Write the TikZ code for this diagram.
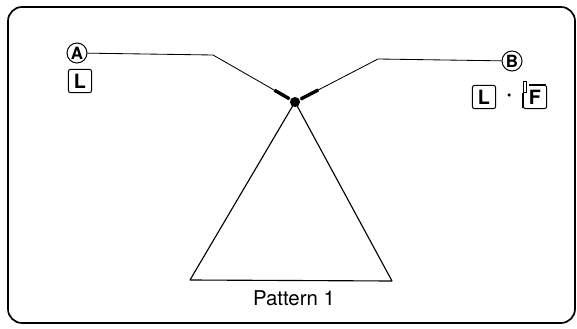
\documentclass[tikz,border=0pt]{standalone}
\usepackage{fontspec}
\setmainfont{TeX Gyre Heros}
\usetikzlibrary{calc}
\begin{document}
\begin{tikzpicture}[x=0.025cm, y=-0.025cm,
    circlabel/.style={circle, draw, line width=0.7pt, inner sep=0pt, minimum size=0.5cm, font=\fontsize{12}{12}\selectfont\bfseries},
    keybox/.style={draw, line width=0.7pt, rounded corners=1.5pt, inner sep=0pt, minimum size=0.58cm, font=\fontsize{14}{14}\selectfont\bfseries},
    thread/.style={line width=0.6pt},
    feed/.style={line width=2.4pt}]
    \useasboundingbox (0,0) rectangle (577,328);
    \draw[line width=1.2pt, rounded corners=10pt] (8,7) rectangle (575,323);
    % needle point
    \node[circle, fill, inner sep=0pt, minimum size=0.25cm] (needle) at (295,102) {};
    % thread A
    \node[circlabel] (a) at (77,53) {A};
    \node[keybox] (la) at (80,81) {L};
    \coordinate (abend) at (213,55);
    \draw[thread] (a) -- (abend) -- (needle);
    \draw[feed] ($(abend)!0.75!(needle.center)$) -- ($(abend)!0.93!(needle.center)$);
    % thread B
    \node[circlabel] (b) at (512,61) {B};
    \node[keybox] (lb) at (484,97) {L};
    \node[circle, fill, inner sep=0pt, minimum size=2.5pt] (dotsep) at (509,95) {};
    \node[keybox] (fb) at (535,97) {F};
    \fill[white] ($(fb.north west)+(-1,-1)$) rectangle ($(fb.north west)+(6,8)$);
    \draw[line width=0.6pt] ($(fb.north west)+(1,-3)$) rectangle ($(fb.north west)+(4,8)$);
    \draw[line width=0.7pt] ($(fb.north west)+(0,8)$) -- ($(fb.south west)+(0,-1)$);
    \draw[line width=0.7pt] ($(fb.north west)+(6,0)$) -- ($(fb.north east)+(-1,0)$);
    \coordinate (bbend) at (378,59);
    \draw[thread] (b) -- (bbend) -- (needle);
    \draw[feed] ($(bbend)!0.72!(needle.center)$) -- ($(bbend)!0.93!(needle.center)$);
    % stitch pattern
    \coordinate (left) at (190,280);
    \coordinate (right) at (392,281);
    \draw[line width=0.8pt, line join=round] (needle.center) -- (left) -- (right) -- cycle;
    \node[font=\fontsize{14.5}{16}\selectfont] (caption) at (294,298) {Pattern 1};
\end{tikzpicture}
\end{document}
